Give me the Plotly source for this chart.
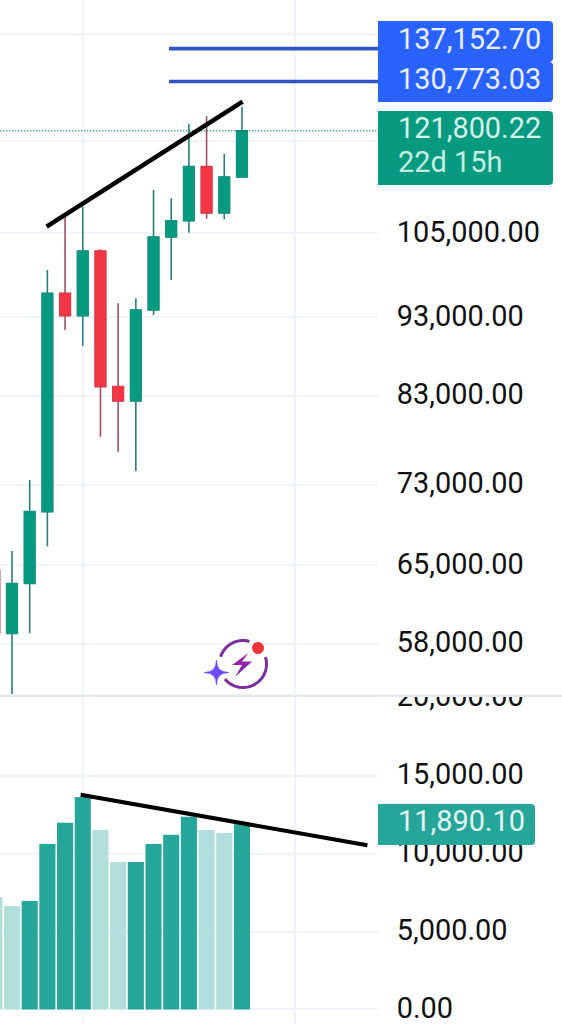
import numpy as np
import plotly.graph_objects as go

W, H = 562, 1024
PLOT_R = 378

# monthly candles, index 0 is cut off by the left edge
idx = list(range(15))
opens = [64570, 58920, 63320, 70245, 96305, 93240, 102380, 84150, 82430, 94010, 104470, 106960, 115640, 108160, 113930]
highs = [64570, 66365, 73535, 99605, 108160, 109150, 102675, 94925, 95615, 111810, 110480, 123000, 124380, 117835, 126115]
lows = [58920, 53975, 58920, 66820, 91335, 89285, 78285, 76605, 74500, 93335, 98175, 105120, 107270, 107180, 113930]
closes = [58920, 63320, 70245, 96305, 93240, 102380, 84150, 82430, 94010, 104470, 106960, 115640, 108160, 113930, 121800.22]
volume = [7220, 6640, 6965, 10620, 11990, 13640, 11520, 9470, 9470, 10620, 11220, 12375, 11520, 11330, 11890.10]
# the volume colouring does not follow the candles
volume_strong = [False, False, True, True, True, True, False, False, True, True, True, True, False, False, True]

price_ticks = [58000, 65000, 73000, 83000, 93000, 105000, 120000, 140000]
price_labels = ['58,000.00', '65,000.00', '73,000.00', '83,000.00', '93,000.00', '105,000.00', '', '']
vol_ticks = [0, 5000, 10000, 15000, 20000]
vol_labels = ['0.00', '5,000.00', '10,000.00', '15,000.00', '20,000.00']
year_ticks = [5, 17]

target_levels = [137152.70, 130773.03]
target_x = [9.875, 21.7]
last_price = 121800.22
price_trend_x = [2.956, 14.035]
price_trend_y = [106040, 127030]
vol_trend_x = [4.88, 21.09]
vol_trend_y = [13787, 10540]

UP = '#089981'
DOWN = '#F23645'
UP_WICK = '#2A7F78'
DOWN_WICK = '#A0505E'
GRID = '#F0F3FA'
INK = '#111111'
FONT = 'Roboto'
SIZE = 28.9


def fx(x):
    return x / W


def fy(y):
    return 1 - y / H


def pt(x, y):
    return f'{fx(x):.5f},{fy(y):.5f}'


def box_path(x0, y0, x1, y1, r=4):
    # square on the left, rounded on the right
    return (f'M {pt(x0, y0)} L {pt(x1 - r, y0)} Q {pt(x1, y0)} {pt(x1, y0 + r)} '
            f'L {pt(x1, y1 - r)} Q {pt(x1, y1)} {pt(x1 - r, y1)} L {pt(x0, y1)} Z')


def arc_path(cx, cy, r, a0, a1):
    angles = np.radians(np.linspace(a0, a1, 40))
    pts = [pt(cx + r * np.cos(a), cy - r * np.sin(a)) for a in angles]
    return 'M ' + ' L '.join(pts)


def star_path(cx, cy, r):
    c = pt(cx, cy)
    return (f'M {pt(cx, cy - r)} Q {c} {pt(cx + r, cy)} Q {c} {pt(cx, cy + r)} '
            f'Q {c} {pt(cx - r, cy)} Q {c} {pt(cx, cy - r)} Z')


fig = go.Figure()

# wicks first, then bodies on top so wick colour does not outline the body
fig.add_trace(go.Candlestick(
    x=idx, open=opens, high=highs, low=lows, close=closes,
    increasing=dict(line=dict(color=UP_WICK, width=1.6), fillcolor=UP),
    decreasing=dict(line=dict(color=DOWN_WICK, width=1.6), fillcolor=DOWN),
    whiskerwidth=0, showlegend=False,
))
fig.add_trace(go.Candlestick(
    x=idx, open=opens, close=closes,
    high=[max(o, c) for o, c in zip(opens, closes)],
    low=[min(o, c) for o, c in zip(opens, closes)],
    increasing=dict(line=dict(color=UP, width=1), fillcolor=UP),
    decreasing=dict(line=dict(color=DOWN, width=1), fillcolor=DOWN),
    whiskerwidth=0, showlegend=False,
))

for level in target_levels:
    fig.add_trace(go.Scatter(x=target_x, y=[level, level], mode='lines',
                             line=dict(color='#2F55C4', width=3.6), showlegend=False))
fig.add_trace(go.Scatter(x=[0, 21.7], y=[last_price, last_price], mode='lines',
                         line=dict(color='#0B7F6C', width=1.3, dash='1px 2px'), showlegend=False))
fig.add_trace(go.Scatter(x=price_trend_x, y=price_trend_y, mode='lines',
                         line=dict(color='black', width=4.6), showlegend=False))

bar_colors = ['#26A69A' if s else '#B2DFDB' for s in volume_strong]
fig.add_trace(go.Bar(x=idx, y=volume, marker=dict(color=bar_colors, line=dict(width=0)),
                     width=0.91, xaxis='x2', yaxis='y2', showlegend=False))
fig.add_trace(go.Scatter(x=vol_trend_x, y=vol_trend_y, mode='lines', xaxis='x2', yaxis='y2',
                         line=dict(color='black', width=4), showlegend=False))

x_common = dict(range=[0.3216, 21.69], domain=[0, PLOT_R / W], tickvals=year_ticks,
                showticklabels=False, showgrid=True, gridcolor=GRID, gridwidth=1.5,
                zeroline=False, showline=False, ticks='', automargin=False)
y_common = dict(side='right', showgrid=True, gridcolor=GRID, gridwidth=1.5, zeroline=False,
                showline=False, ticks='outside', ticklen=12, tickwidth=0, automargin=False,
                ticklabeloverflow='allow', ticklabelshift=-2,
                tickcolor='rgba(0,0,0,0)', tickfont=dict(family=FONT, size=SIZE, color=INK))

shapes = [
    # clip the 20,000 label and draw the pane separator
    dict(type='rect', xref='paper', yref='paper', x0=fx(PLOT_R), x1=1, y0=fy(697), y1=fy(672),
         fillcolor='white', line_width=0, layer='above'),
    dict(type='rect', xref='paper', yref='paper', x0=0, x1=1, y0=fy(697), y1=fy(694.5),
         fillcolor='#E6E8EE', line_width=0, layer='above'),
    # price and volume tags
    dict(type='path', path=box_path(PLOT_R, 21, 553, 62), xref='paper', yref='paper',
         fillcolor='#2962FF', line_width=0, layer='above'),
    dict(type='path', path=box_path(PLOT_R, 62, 553, 102), xref='paper', yref='paper',
         fillcolor='#2962FF', line_width=0, layer='above'),
    dict(type='path', path=box_path(PLOT_R, 111, 553, 185), xref='paper', yref='paper',
         fillcolor=UP, line_width=0, layer='above'),
    dict(type='path', path=box_path(PLOT_R, 804, 535, 845), xref='paper', yref='paper',
         fillcolor='#26A69A', line_width=0, layer='above'),
    # watermark logo
    dict(type='path', path=arc_path(243, 664, 23.5, 162, 74), xref='paper', yref='paper',
         line=dict(color='#7B2D9B', width=3), layer='above'),
    dict(type='path', path=arc_path(243, 664, 23.5, 17, -140), xref='paper', yref='paper',
         line=dict(color='#7B2D9B', width=3), layer='above'),
    dict(type='path', path=star_path(216.5, 672.5, 12), xref='paper', yref='paper',
         fillcolor='#6D4CF5', line=dict(color='#6D4CF5', width=1), layer='above'),
    dict(type='path', xref='paper', yref='paper', fillcolor='#8E24AA', line_width=0, layer='above',
         path='M ' + ' L '.join(pt(x, y) for x, y in [(248.5, 653), (232, 665), (242, 665),
                                                      (235, 677), (252, 661.5), (242, 661.5)]) + ' Z'),
    dict(type='circle', xref='paper', yref='paper', x0=fx(252), x1=fx(264), y0=fy(654), y1=fy(642),
         fillcolor='#EE3338', line_width=0, layer='above'),
]

tags = [
    ('137,152.70', 38.7, '#EAF0FF'),
    ('130,773.03', 78.7, '#EAF0FF'),
    ('121,800.22', 128, '#D5F3E8'),
    ('22d 15h', 161.7, '#C5EEDF'),
    ('11,890.10', 821, '#E4F6F3'),
]
annotations = [dict(text=t, x=fx(396), y=fy(y), xref='paper', yref='paper', showarrow=False,
                    xanchor='left', yanchor='middle', font=dict(family=FONT, size=SIZE, color=c))
               for t, y, c in tags]

fig.update_layout(
    width=W, height=H, autosize=False,
    margin=dict(l=0, r=0, t=0, b=0, pad=0),
    paper_bgcolor='white', plot_bgcolor='white',
    boxgap=0.14, bargap=0.09, showlegend=False, hovermode=False,
    xaxis=dict(anchor='y', rangeslider=dict(visible=False), **x_common),
    xaxis2=dict(anchor='y2', matches='x', **x_common),
    yaxis=dict(type='log', domain=[fy(694), 1], range=[4.7322, 5.1677], anchor='x',
               tickvals=price_ticks, ticktext=price_labels, **y_common),
    yaxis2=dict(domain=[0, fy(697)], range=[-931, 20056], anchor='x2',
                tickvals=vol_ticks, ticktext=vol_labels, **y_common),
    shapes=shapes, annotations=annotations,
)

fig.write_html('out.html', config=dict(displayModeBar=False),
               post_script="document.body.style.margin='0';document.body.style.overflow='hidden';")
